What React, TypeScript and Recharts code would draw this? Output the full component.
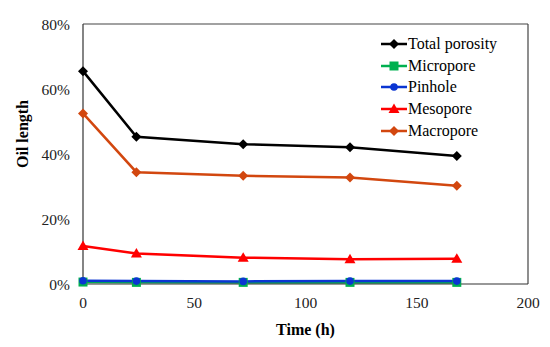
import React from 'react';
import { LineChart, Line, XAxis, YAxis, ReferenceLine } from 'recharts';

const times = [0, 24, 72, 120, 168];
const totalPorosity = [65.5, 45.3, 43.0, 42.1, 39.4];
const micropore = [0.6, 0.5, 0.5, 0.5, 0.5];
const pinhole = [1.0, 0.9, 0.8, 0.9, 0.9];
const mesopore = [11.7, 9.4, 8.1, 7.6, 7.8];
const macropore = [52.5, 34.4, 33.3, 32.8, 30.2];
const xTicks = [0, 50, 100, 150, 200];
const yTicks = [0, 20, 40, 60, 80];

const data = times.map((t, i) => ({
  t,
  total: totalPorosity[i],
  micro: micropore[i],
  pin: pinhole[i],
  meso: mesopore[i],
  macro: macropore[i],
}));

type Shape = 'diamond' | 'square' | 'circle' | 'triangle';

const markerPath = (shape: Shape, cx: number, cy: number) => {
  switch (shape) {
    case 'diamond':
      return `M${cx},${cy - 5}L${cx + 5},${cy}L${cx},${cy + 5}L${cx - 5},${cy}Z`;
    case 'square':
      return `M${cx - 4.5},${cy - 4.5}h9v9h-9Z`;
    case 'triangle':
      return `M${cx},${cy - 5.5}L${cx + 5.5},${cy + 4}L${cx - 5.5},${cy + 4}Z`;
    default:
      return '';
  }
};

const Marker = ({ shape, color, cx, cy }: { shape: Shape; color: string; cx: number; cy: number }) =>
  shape === 'circle' ? (
    <circle cx={cx} cy={cy} r={3.8} fill={color} />
  ) : (
    <path d={markerPath(shape, cx, cy)} fill={color} />
  );

const series = [
  { key: 'total', name: 'Total porosity', color: '#000000', shape: 'diamond' as Shape },
  { key: 'micro', name: 'Micropore', color: '#00B050', shape: 'square' as Shape },
  { key: 'pin', name: 'Pinhole', color: '#0A35D2', shape: 'circle' as Shape },
  { key: 'meso', name: 'Mesopore', color: '#FF0000', shape: 'triangle' as Shape },
  { key: 'macro', name: 'Macropore', color: '#D2470F', shape: 'diamond' as Shape },
];

const font = '"Liberation Serif", "Times New Roman", serif';

const LegendBox = () => (
  <div style={{ position: 'absolute', left: 381, top: 33, fontFamily: font, fontSize: 16, color: '#000' }}>
    {series.map((s) => (
      <div key={s.key} style={{ display: 'flex', alignItems: 'center', height: 21.7 }}>
        <svg width={26} height={14} style={{ marginRight: 1 }}>
          <line x1={0} y1={7} x2={26} y2={7} stroke={s.color} strokeWidth={2.5} />
          <Marker shape={s.shape} color={s.color} cx={13} cy={7} />
        </svg>
        <span style={{ lineHeight: '16px' }}>{s.name}</span>
      </div>
    ))}
  </div>
);

const tickStyle = { fontFamily: font, fontSize: 15.5, fill: '#222' };

export default function App() {
  return (
    <div style={{ position: 'absolute', left: 0, top: 0, width: 550, height: 347, background: '#fff', fontFamily: font }}>
      <LineChart
        width={550}
        height={347}
        data={data}
        margin={{ top: 24, right: 22, bottom: 0, left: 0 }}
        style={{ fontFamily: font }}
      >
        <XAxis
          dataKey="t"
          type="number"
          domain={[0, 200]}
          ticks={xTicks}
          tickLine={false}
          axisLine={{ stroke: '#333', strokeWidth: 1.2 }}
          tick={tickStyle}
          tickMargin={7}
          height={63}
          label={{
            value: 'Time (h)',
            position: 'insideBottom',
            offset: 12,
            style: { fontFamily: font, fontSize: 16, fontWeight: 'bold', fill: '#000' },
          }}
        />
        <YAxis
          type="number"
          domain={[0, 80]}
          ticks={yTicks}
          tickFormatter={(v: number) => `${v}%`}
          tickLine={false}
          axisLine={{ stroke: '#333', strokeWidth: 1.2 }}
          tick={tickStyle}
          tickMargin={7}
          width={83}
          label={{
            value: 'Oil length',
            angle: -90,
            position: 'insideLeft',
            offset: 22,
            dy: -20,
            style: { fontFamily: font, fontSize: 16, fontWeight: 'bold', fill: '#000', textAnchor: 'middle' },
          }}
        />
        <ReferenceLine y={80} stroke="#444" strokeWidth={1.2} />
        <ReferenceLine x={200} stroke="#444" strokeWidth={1.2} />
        {series.map((s) => (
          <Line
            key={s.key}
            dataKey={s.key}
            name={s.name}
            stroke={s.color}
            strokeWidth={2.5}
            isAnimationActive={false}
            dot={(p: any) => <Marker key={`${s.key}-${p.index}`} shape={s.shape} color={s.color} cx={p.cx} cy={p.cy} />}
            activeDot={false}
          />
        ))}
      </LineChart>
      <LegendBox />
    </div>
  );
}
